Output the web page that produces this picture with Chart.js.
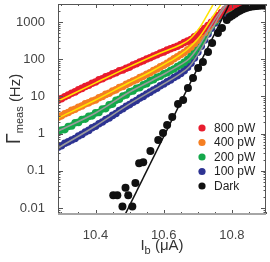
<!DOCTYPE html>
<html>
<head>
<meta charset="utf-8">
<script src="https://cdn.jsdelivr.net/npm/chart.js@4.4.1/dist/chart.umd.min.js"></script>
<style>
  html, body { margin: 0; padding: 0; background: #fff; }
</style>
</head>
<body>
<canvas id="myChart" width="270" height="262"></canvas>
<script>
// bias current (uA) shared by the illuminated sweeps
const currentUA = [10.29, 10.30, 10.31, 10.32, 10.33, 10.34, 10.35, 10.36, 10.37, 10.38,
  10.39, 10.40, 10.41, 10.42, 10.43, 10.44, 10.45, 10.46, 10.47, 10.48,
  10.49, 10.50, 10.51, 10.52, 10.53, 10.54, 10.55, 10.56, 10.57, 10.58,
  10.59, 10.60, 10.61, 10.62, 10.63, 10.64, 10.65, 10.66, 10.67, 10.68,
  10.69, 10.70, 10.71, 10.72, 10.73, 10.74, 10.75, 10.76, 10.77, 10.78,
  10.79, 10.80, 10.81, 10.82, 10.83, 10.84, 10.85, 10.86, 10.87, 10.88, 10.89];

// measured count rate (Hz)
const rate800 = [7.9, 8.7, 9.8, 10.8, 12.1, 13.2, 15.0, 16.4, 18.5, 20.0,
  22.6, 24.3, 27.8, 29.9, 33.5, 35.8, 40.2, 43.1, 48.5, 51.0,
  56.9, 61.2, 69.8, 75.1, 84.0, 90.5, 101, 109, 121, 131,
  146, 157, 175, 190, 205, 222, 247, 280, 305, 338,
  400, 455, 553, 665, 798, 975, 1200, 1480, 1800, 2140,
  2400, 2600, 2720, 2800, 2850, 2880, 2900, 2910, 2930, 2940, 2950];
const rate400 = [2.75, 3.0, 3.4, 3.7, 4.2, 4.5, 5.1, 5.5, 6.3, 6.7,
  7.5, 8.0, 9.2, 9.9, 11.3, 12.1, 13.9, 15.0, 17.2, 18.4,
  21.0, 23.1, 25.9, 28.0, 31.9, 34.5, 39.2, 43.3, 49.4, 54.6,
  62.0, 68.8, 78.0, 88.5, 103, 116, 133, 150, 179, 212,
  265, 322, 410, 522, 680, 868, 1125, 1440, 1780, 2130,
  2390, 2560, 2670, 2760, 2810, 2850, 2870, 2890, 2900, 2910, 2920];
const rate200 = [1.1, 1.25, 1.28, 1.55, 1.6, 1.95, 2.0, 2.4, 2.45, 2.9,
  3.0, 3.6, 3.7, 4.6, 4.7, 5.9, 6.2, 7.9, 8.4, 10.2,
  10.9, 13.3, 13.9, 16.5, 17.2, 20.6, 22.0, 26.5, 28.0, 32.6,
  34.6, 40.2, 43.2, 49.5, 54.5, 63.5, 71, 82, 97, 122,
  156, 210, 290, 405, 566, 791, 1030, 1370, 1730, 2020,
  2250, 2450, 2580, 2680, 2750, 2800, 2830, 2850, 2860, 2870, 2880];
const rate100 = [0.43, 0.47, 0.55, 0.60, 0.67, 0.74, 0.86, 0.95, 1.10, 1.22,
  1.44, 1.58, 1.83, 2.04, 2.38, 2.62, 3.08, 3.48, 4.17, 4.65,
  5.40, 6.02, 6.97, 7.78, 8.98, 10.0, 11.6, 13.0, 14.9, 16.6,
  19.3, 21.5, 24.8, 27.6, 32.1, 35.7, 41.5, 49.0, 60.5, 77.5,
  107, 153, 222, 328, 473, 681, 933, 1230, 1510, 1790,
  2010, 2190, 2380, 2540, 2650, 2720, 2770, 2800, 2820, 2840, 2850];

// dark counts
const darkUA = [10.452, 10.464, 10.479, 10.488, 10.496, 10.508, 10.517, 10.528, 10.540, 10.561,
  10.584, 10.598, 10.610, 10.625, 10.642, 10.657, 10.671, 10.686, 10.701, 10.715,
  10.730, 10.742, 10.759, 10.771, 10.785, 10.794, 10.801, 10.809, 10.816, 10.823,
  10.830, 10.837, 10.844, 10.851, 10.858, 10.865, 10.872, 10.879, 10.886, 10.893, 10.899];
const darkRate = [0.022, 0.022, 0.011, 0.035, 0.022, 0.011, 0.047, 0.16, 0.17, 0.34,
  0.67, 1.04, 1.7, 2.8, 6.2, 8.0, 16.8, 31, 58, 84,
  156, 272, 506, 690, 1130, 1370, 1500, 1650, 1850, 2000,
  2150, 2300, 2420, 2520, 2590, 2640, 2680, 2720, 2750, 2770, 2780];

// model curves
const fit800UA = [10.29, 10.40, 10.50, 10.59, 10.648, 10.677, 10.707, 10.721, 10.736, 10.747];
const fit800 = [7.5, 23, 63, 147, 241, 349, 735, 1205, 2100, 3240];
const fit400UA = [10.29, 10.40, 10.496, 10.561, 10.619, 10.648, 10.677, 10.707, 10.736, 10.753, 10.771];
const fit400 = [2.6, 8.0, 22.9, 45.3, 89.5, 130, 213, 421, 1060, 1860, 3240];
const fit200UA = [10.29, 10.40, 10.50, 10.59, 10.648, 10.677, 10.707, 10.736, 10.765, 10.785];
const fit200 = [1.17, 3.58, 13.1, 35.3, 69.8, 108, 256, 735, 1860, 3240];
const fit100UA = [10.29, 10.40, 10.50, 10.59, 10.648, 10.677, 10.707, 10.736, 10.765, 10.788];
const fit100 = [0.41, 1.6, 6.25, 19.1, 40, 65.6, 166, 506, 1540, 3240];
const fitDarkUA = [10.48, 10.80];
const fitDark = [0.005, 4170];

const legendLabels = ['800 pW', '400 pW', '200 pW', '100 pW', 'Dark'];
const legendColors = ['#e81c2e', '#f57f22', '#14a84b', '#2d3392', '#111111'];

const xTickLabels = [10.4, 10.6, 10.8];
const xMinorTicks = [10.3, 10.35, 10.4, 10.45, 10.5, 10.55, 10.6, 10.65, 10.7, 10.75, 10.8, 10.85, 10.9];
const yTickLabels = [0.01, 0.1, 1, 10, 100, 1000];

const FONT = 'Liberation Sans, Arial, Helvetica, sans-serif';

const pts = (xs, ys) => xs.map((v, i) => ({ x: v, y: ys[i] }));

const dots = (data, color, order, r) => ({
  data, showLine: false, order,
  pointRadius: r, pointHoverRadius: r,
  pointBackgroundColor: color, pointBorderWidth: 0, borderColor: color
});
const curve = (data, color, order) => ({
  data, showLine: true, order,
  pointRadius: 0, borderColor: color, borderWidth: 1.5,
  cubicInterpolationMode: 'monotone', fill: false
});

const decorations = {
  id: 'decorations',
  afterDraw(chart) {
    const { ctx, chartArea: a, scales: { x, y } } = chart;
    ctx.save();

    // inward ticks
    ctx.strokeStyle = '#555';
    ctx.lineWidth = 1;
    ctx.beginPath();
    xMinorTicks.forEach(v => {
      const p = Math.round(x.getPixelForValue(v)) + 0.5;
      const len = xTickLabels.includes(v) ? 4 : 2;
      ctx.moveTo(p, a.bottom); ctx.lineTo(p, a.bottom - len);
      ctx.moveTo(p, a.top); ctx.lineTo(p, a.top + len);
    });
    for (let e = -3; e <= 3; e++) {
      for (let m = 1; m <= 9; m++) {
        const v = m * Math.pow(10, e);
        if (v < y.min || v > y.max) continue;
        const p = Math.round(y.getPixelForValue(v)) + 0.5;
        const len = m === 1 ? 5 : 2.5;
        ctx.moveTo(a.left, p); ctx.lineTo(a.left + len, p);
        ctx.moveTo(a.right, p); ctx.lineTo(a.right - len, p);
      }
    }
    ctx.stroke();

    // frame
    ctx.strokeStyle = '#555';
    ctx.beginPath();
    ctx.moveTo(a.left + 0.5, a.bottom);
    ctx.lineTo(a.left + 0.5, a.top + 0.5);
    ctx.lineTo(a.right - 0.5, a.top + 0.5);
    ctx.lineTo(a.right - 0.5, a.bottom);
    ctx.stroke();
    ctx.strokeStyle = '#a6a6a6';
    ctx.lineWidth = 2;
    ctx.beginPath();
    ctx.moveTo(a.left, a.bottom);
    ctx.lineTo(a.right, a.bottom);
    ctx.stroke();

    // legend
    ctx.font = '12px ' + FONT;
    ctx.textBaseline = 'middle';
    ctx.textAlign = 'left';
    legendLabels.forEach((lab, i) => {
      const cy = a.top + 124 + i * 14.5;
      const cx = a.right - 64;
      ctx.fillStyle = legendColors[i];
      ctx.beginPath();
      ctx.arc(cx, cy, 3.6, 0, Math.PI * 2);
      ctx.fill();
      ctx.fillStyle = '#222';
      ctx.fillText(lab, cx + 12, cy + 0.5);
    });

    // x title: I_b (uA)
    ctx.fillStyle = '#333';
    ctx.textBaseline = 'alphabetic';
    const xb = 250;
    ctx.font = '15px ' + FONT;
    const wI = ctx.measureText('I').width;
    ctx.font = '11px ' + FONT;
    const wb = ctx.measureText('b').width;
    ctx.font = '15px ' + FONT;
    const wRest = ctx.measureText(' (\u03bcA)').width;
    let cx = (a.left + a.right) / 2 - (wI + wb + wRest) / 2;
    ctx.fillText('I', cx, xb);
    cx += wI;
    ctx.font = '11px ' + FONT;
    ctx.fillText('b', cx, xb + 4);
    cx += wb;
    ctx.font = '15px ' + FONT;
    ctx.fillText(' (\u03bcA)', cx, xb);

    // y title: Gamma_meas (Hz), rotated
    ctx.save();
    ctx.translate(20, (a.top + a.bottom) / 2);
    ctx.rotate(-Math.PI / 2);
    ctx.font = '20px ' + FONT;
    const wG = ctx.measureText('\u0393').width;
    ctx.font = '11px ' + FONT;
    const wm = ctx.measureText('meas').width;
    ctx.font = '15px ' + FONT;
    const wH = ctx.measureText(' (Hz)').width;
    let px = -(wG + wm + wH) / 2;
    ctx.font = '20px ' + FONT;
    ctx.fillText('\u0393', px, 0);
    px += wG;
    ctx.font = '11px ' + FONT;
    ctx.fillText('meas', px, 3);
    px += wm;
    ctx.font = '15px ' + FONT;
    ctx.fillText(' (Hz)', px, 0);
    ctx.restore();

    ctx.restore();
  }
};

new Chart(document.getElementById('myChart').getContext('2d'), {
  type: 'scatter',
  data: {
    datasets: [
      curve(pts(fit800UA, fit800), '#ffe400', 0),
      curve(pts(fit400UA, fit400), '#ffe400', 0),
      curve(pts(fit200UA, fit200), '#9a9a9a', 0),
      curve(pts(fit100UA, fit100), '#9a9a9a', 0),
      curve(pts(fitDarkUA, fitDark), '#111111', 0),
      dots(pts(darkUA, darkRate), legendColors[4], 1, 4),
      dots(pts(currentUA, rate800), legendColors[0], 2, 3.8),
      dots(pts(currentUA, rate400), legendColors[1], 3, 3.8),
      dots(pts(currentUA, rate200), legendColors[2], 4, 3.8),
      dots(pts(currentUA, rate100), legendColors[3], 5, 3.8)
    ]
  },
  options: {
    responsive: false,
    animation: false,
    layout: { padding: { left: 0, right: 3, top: 4, bottom: 0 } },
    plugins: { legend: { display: false }, tooltip: { enabled: false } },
    scales: {
      x: {
        type: 'linear', min: 10.29, max: 10.90,
        afterBuildTicks: s => { s.ticks = xTickLabels.map(v => ({ value: v })); },
        afterFit: s => { s.height = 48; s.paddingLeft = 0; s.paddingRight = 0; },
        ticks: { callback: v => v.toFixed(1), color: '#444', padding: 6, maxRotation: 0,
          font: { family: FONT, size: 13 } },
        grid: { display: false },
        border: { display: false }
      },
      y: {
        type: 'logarithmic', min: 0.0069, max: 3040,
        afterBuildTicks: s => { s.ticks = yTickLabels.map(v => ({ value: v })); },
        afterFit: s => { s.width = 58; s.paddingTop = 0; s.paddingBottom = 0; },
        ticks: { callback: v => String(v), color: '#444', padding: 5,
          font: { family: FONT, size: 13 } },
        grid: { display: false },
        border: { display: false }
      }
    }
  },
  plugins: [decorations]
});
</script>
</body>
</html>
